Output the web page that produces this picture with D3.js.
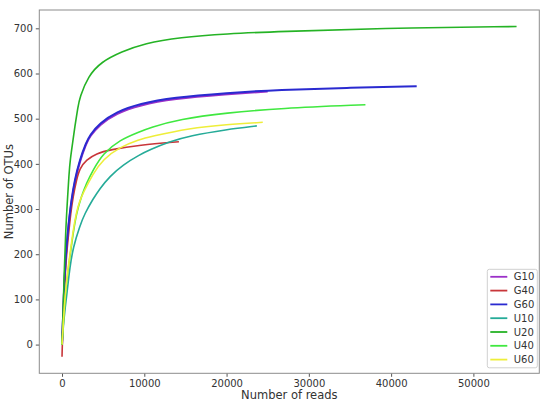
<!DOCTYPE html>
<html>
<head>
<meta charset="utf-8">
<script src="https://cdn.jsdelivr.net/npm/d3@7"></script>
<style>
  body { margin: 0; background: #fff; }
  text { font-family: "DejaVu Sans", sans-serif; fill: #333; }
</style>
</head>
<body>
<div id="chart"></div>
<script>
// rarefaction curves
const seriesNames = ['G10', 'G40', 'G60', 'U10', 'U20', 'U40', 'U60'];
const seriesColors = ['#9b30c8', '#c8363a', '#2a2ad0', '#25ab98', '#25b325', '#40e840', '#eeee3a'];

const readsG10 = [0, 100, 300, 530, 730, 850, 1140, 1540, 2150, 2960, 3360, 4580, 6600, 9430, 13480, 20000, 25000];
const otusG10  = [0, 48, 147, 212, 251, 273, 316, 360, 405, 446, 460, 487, 512, 530, 544, 554, 560];

const readsG40 = [0, 60, 200, 400, 600, 850, 1060, 1340, 1750, 2150, 2960, 4180, 5790, 9430, 14210];
const otusG40  = [-27, 20, 90, 160, 210, 254, 291, 327, 364, 390, 409, 423, 431, 442, 449];

const readsG60 = [0, 100, 300, 530, 730, 850, 1140, 1540, 2150, 2960, 3360, 4580, 6600, 9430, 13480, 20000, 26440, 34540, 43110];
const otusG60  = [0, 50, 150, 215, 254, 276, 320, 364, 409, 448, 463, 490, 515, 533, 547, 557, 564, 568, 572];

const readsU10 = [0, 150, 400, 610, 730, 940, 1340, 2150, 2760, 3760, 4580, 5790, 7400, 9430, 10650, 13080, 15500, 20000, 23680];
const otusU10  = [0, 40, 85, 115, 135, 168, 215, 262, 290, 322, 345, 372, 398, 420, 431, 449, 462, 476, 484];

const readsU20 = [0, 100, 250, 450, 610, 850, 1000, 1340, 1540, 1940, 2150, 3160, 4780, 7210, 10040, 14290, 20000, 26440, 38580, 55250];
const otusU20  = [0, 55, 150, 254, 305, 379, 410, 453, 480, 527, 547, 594, 626, 648, 667, 680, 688, 693, 700, 704];

const readsU40 = [0, 150, 400, 700, 940, 1340, 1740, 2360, 2960, 3760, 4980, 7000, 9430, 10650, 14290, 20000, 26440, 36880];
const otusU40  = [0, 45, 110, 160, 192, 245, 290, 328, 357, 386, 423, 453, 471, 480, 499, 513, 523, 531];

const readsU60 = [0, 150, 400, 700, 940, 1340, 1740, 2150, 2550, 3760, 4980, 7000, 9430, 10650, 15500, 20000, 24400];
const otusU60  = [0, 47, 115, 165, 195, 252, 292, 318, 335, 378, 410, 437, 454, 460, 479, 487, 492];

const xTicks = [0, 10000, 20000, 30000, 40000, 50000];
const yTicks = [0, 100, 200, 300, 400, 500, 600, 700];

const readsAll = [readsG10, readsG40, readsG60, readsU10, readsU20, readsU40, readsU60];
const otusAll  = [otusG10, otusG40, otusG60, otusU10, otusU20, otusU40, otusU60];

const series = seriesNames.map((name, i) => ({
    name: name,
    color: seriesColors[i],
    points: readsAll[i].map((r, j) => ({reads: r, otus: otusAll[i][j]}))
}));

const width = 550, height = 406;
const margin = {top: 10, right: 10.7, bottom: 32.7, left: 39.3};
const plotW = width - margin.left - margin.right;
const plotH = height - margin.top - margin.bottom;

const svg = d3.select('#chart').append('svg')
    .attr('width', width)
    .attr('height', height);

const g = svg.append('g')
    .attr('transform', 'translate(' + margin.left + ',' + margin.top + ')');

// matplotlib style 5% padding
let xMax = d3.max(readsAll.flat());
let yMin = d3.min(otusAll.flat()), yMax = d3.max(otusAll.flat());
let xPad = xMax * 0.05, yPad = (yMax - yMin) * 0.05;

const x = d3.scaleLinear().domain([-xPad, xMax + xPad]).range([0, plotW]);
const y = d3.scaleLinear().domain([yMin - yPad, yMax + yPad]).range([plotH, 0]);

// axes
const xAxis = g.append('g')
    .attr('transform', 'translate(0,' + plotH + ')')
    .call(d3.axisBottom(x).tickValues(xTicks).tickFormat(d3.format('d')).tickSize(3.5).tickPadding(3));
const yAxis = g.append('g')
    .call(d3.axisLeft(y).tickValues(yTicks).tickFormat(d3.format('d')).tickSize(3.5).tickPadding(3));

[xAxis, yAxis].forEach(a => {
    a.select('.domain').remove();
    a.selectAll('.tick line').attr('stroke', '#555');
    a.selectAll('.tick text').attr('font-size', '10px').style('fill', '#333');
});

// curves (basis smooths out the reading noise)
const line = d3.line()
    .x(d => x(d.reads))
    .y(d => y(d.otus))
    .curve(d3.curveBasis);

g.append('g').selectAll('path')
    .data(series)
    .enter()
    .append('path')
    .attr('fill', 'none')
    .attr('stroke', d => d.color)
    .attr('stroke-width', d => (d.name == 'G10' || d.name == 'G60') ? 2 : 1.6)
    .attr('d', d => line(d.points));

// frame
g.append('rect')
    .attr('width', plotW)
    .attr('height', plotH)
    .attr('fill', 'none')
    .attr('stroke', '#8c8c8c')
    .attr('stroke-width', 1);

// axis titles
g.append('text')
    .attr('x', plotW / 2)
    .attr('y', plotH + 26)
    .attr('text-anchor', 'middle')
    .attr('font-size', '11.5px')
    .text('Number of reads');

g.append('text')
    .attr('transform', 'translate(' + (-26) + ',' + (plotH / 2) + ') rotate(-90)')
    .attr('text-anchor', 'middle')
    .attr('font-size', '11.5px')
    .text('Number of OTUs');

// legend
const legW = 50, rowH = 13.8;
const legend = g.append('g')
    .attr('transform', 'translate(' + (plotW - legW - 2) + ',' + (plotH - 104) + ')');

legend.append('rect')
    .attr('width', legW)
    .attr('height', 98.5)
    .attr('rx', 2)
    .attr('fill', '#fff')
    .attr('stroke', '#d0d0d0');

const rows = legend.selectAll('g.row')
    .data(series)
    .enter()
    .append('g')
    .attr('class', 'row')
    .attr('transform', (d, i) => 'translate(0,' + (7.5 + i * rowH) + ')');

rows.append('line')
    .attr('x1', 3).attr('x2', 20)
    .attr('stroke', d => d.color)
    .attr('stroke-width', 1.8);

rows.append('text')
    .attr('x', 26.5)
    .attr('dy', '0.35em')
    .attr('font-size', '10px')
    .text(d => d.name);
</script>
</body>
</html>
